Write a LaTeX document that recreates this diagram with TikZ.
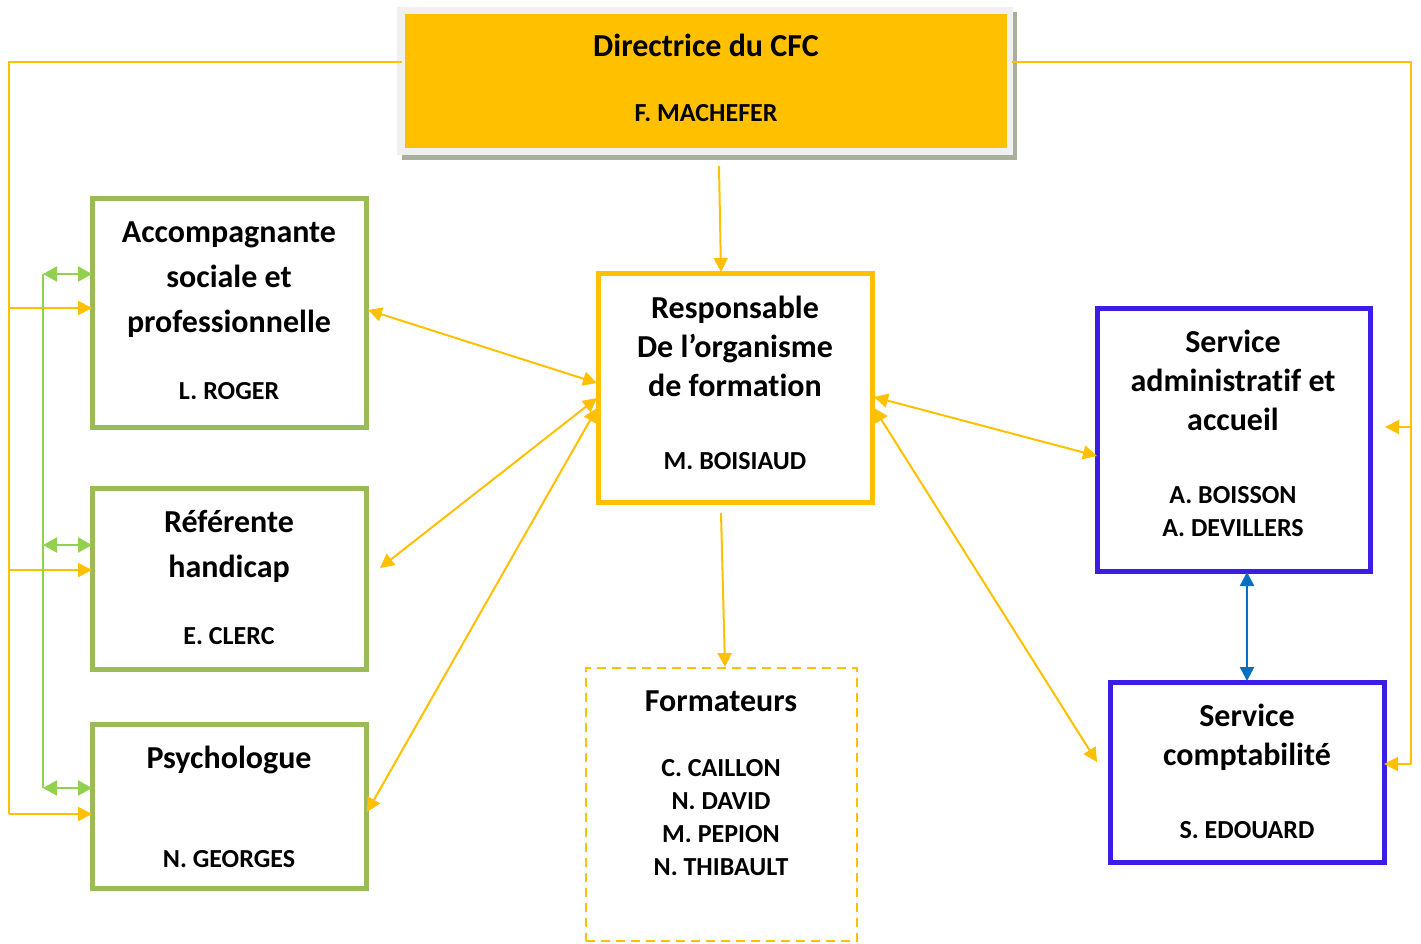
\documentclass[tikz,border=0pt]{standalone}
\usepackage{fontspec}
\setmainfont{Carlito}[Ligatures=CommonOff]
\usetikzlibrary{arrows.meta}
\definecolor{cfcorange}{HTML}{FFC000}
\definecolor{boxgreen}{HTML}{9BBB59}
\definecolor{arrgreen}{HTML}{92D050}
\definecolor{boxblue}{HTML}{3B1EE6}
\definecolor{arrblue}{HTML}{0070C0}
\definecolor{framegray}{HTML}{F0F0F0}
\definecolor{shadowgray}{HTML}{A8B09C}
\tikzset{
  gbox/.style={draw=boxgreen, line width=5pt, rectangle, inner sep=0pt},
  obox/.style={draw=cfcorange, line width=5pt, rectangle, inner sep=0pt},
  bbox/.style={draw=boxblue, line width=5pt, rectangle, inner sep=0pt},
  dbox/.style={draw=cfcorange, line width=2pt, dash pattern=on 9pt off 6pt, rectangle, inner sep=0pt},
  ttl/.style={font=\fontsize{32}{45}\selectfont\bfseries, align=center, inner sep=0pt},
  ttlb/.style={font=\fontsize{32}{39}\selectfont\bfseries, align=center, inner sep=0pt},
  nm/.style={font=\fontsize{26}{33}\selectfont\bfseries, align=center, inner sep=0pt},
  oline/.style={draw=cfcorange, line width=2pt},
  oarr/.style={draw=cfcorange, line width=2pt, -{Triangle[length=14pt,width=14pt]}},
  odbl/.style={draw=cfcorange, line width=2pt, {Triangle[length=14pt,width=14pt]}-{Triangle[length=14pt,width=14pt]}},
  gdbl/.style={draw=arrgreen, line width=2.5pt, {Triangle[length=14pt,width=15pt]}-{Triangle[length=14pt,width=15pt]}},
  bdbl/.style={draw=arrblue, line width=2.5pt, {Triangle[length=14pt,width=14pt]}-{Triangle[length=14pt,width=14pt]}},
}
\begin{document}
\begin{tikzpicture}[x=1pt,y=-1pt]
\useasboundingbox (0,0) rectangle (1421,943);
% top box
\fill[shadowgray] (402,12) rectangle (1017,160);
\fill[framegray] (397,7) rectangle (1013,155);
\node[fill=cfcorange, minimum width=602pt, minimum height=134pt, inner sep=0pt] (dir) at (706,81) {};
\node[ttl] (dirT) at (706,45) {Directrice du CFC};
\node[nm] (dirN) at (706,113) {F. MACHEFER};
% left boxes
\node[gbox, minimum width=274pt, minimum height=229pt] (acc) at (229,312.5) {};
\node[ttl] (accT) at (229,280) {Accompagnante\\sociale et\\professionnelle};
\node[nm] (accN) at (229,391) {L. ROGER};
\node[gbox, minimum width=274pt, minimum height=181pt] (ref) at (229,578.5) {};
\node[ttl] (refT) at (229,546) {Référente\\handicap};
\node[nm] (refN) at (229,636) {E. CLERC};
\node[gbox, minimum width=274pt, minimum height=164pt] (psy) at (229,806) {};
\node[ttl] (psyT) at (229,760) {Psychologue};
\node[nm] (psyN) at (229,859) {N. GEORGES};
% centre
\node[obox, minimum width=274pt, minimum height=229pt] (resp) at (735,387.5) {};
\node[ttlb] (respT) at (735,346) {Responsable\\De l’organisme\\de formation};
\node[nm] (respN) at (735,461) {M. BOISIAUD};
\node[dbox, minimum width=271pt, minimum height=273pt] (form) at (721.5,804.5) {};
\node[ttl] (formT) at (721,701) {Formateurs};
\node[nm] (formN) at (721,818) {C. CAILLON\\N. DAVID\\M. PEPION\\N. THIBAULT};
% right
\node[bbox, minimum width=273pt, minimum height=263pt] (adm) at (1233.5,439.5) {};
\node[ttlb] (admT) at (1233,380) {Service\\administratif et\\accueil};
\node[nm] (admN) at (1233,511.5) {A. BOISSON\\A. DEVILLERS};
\node[bbox, minimum width=274pt, minimum height=180pt] (cpt) at (1247,772) {};
\node[ttlb] (cptT) at (1247,737) {Service\\comptabilité};
\node[nm] (cptN) at (1247,830) {S. EDOUARD};
% ports
\coordinate (dL) at (402,62);
\coordinate (dR) at (1012,62);
\coordinate (lTop) at (9,62);
\coordinate (rTop) at (1411,62);
\coordinate (accIn) at (92,308);
\coordinate (refIn) at (92,570);
\coordinate (psyIn) at (92,814);
\coordinate (admIn) at (1385,427);
\coordinate (cptIn) at (1384,764);
% left trunk
\draw[oline] (dL) -- (lTop) -- (9,814);
\draw[oarr] (9,308) -- (accIn);
\draw[oarr] (9,570) -- (refIn);
\draw[oarr] (9,814) -- (psyIn);
% right trunk
\draw[oline] (dR) -- (rTop) -- (1411,764);
\draw[oarr] (1411,427) -- (admIn);
\draw[oarr] (1411,764) -- (cptIn);
% green
\draw[draw=arrgreen, line width=2.5pt] (43,274) -- (43,788);
\draw[gdbl] (43,274) -- (92,274);
\draw[gdbl] (43,545) -- (92,545);
\draw[gdbl] (43,788) -- (92,788);
% vertical
\coordinate (dirB) at (719,166);
\coordinate (respTop) at (721,272);
\draw[oarr] (dirB) -- (respTop);
\coordinate (respB) at (721,513);
\coordinate (formTop) at (725,667);
\draw[oarr] (respB) -- (formTop);
% diagonals
\draw[odbl] (368,310) -- (597,383);
\draw[odbl] (380,568) -- (597,398);
\draw[odbl] (367,812) -- (597,408);
\draw[odbl] (874,397) -- (1097,456);
\draw[odbl] (874,408) -- (1097,762);
% blue
\draw[bdbl] (1247,572) -- (1247,681);
\end{tikzpicture}
\end{document}
